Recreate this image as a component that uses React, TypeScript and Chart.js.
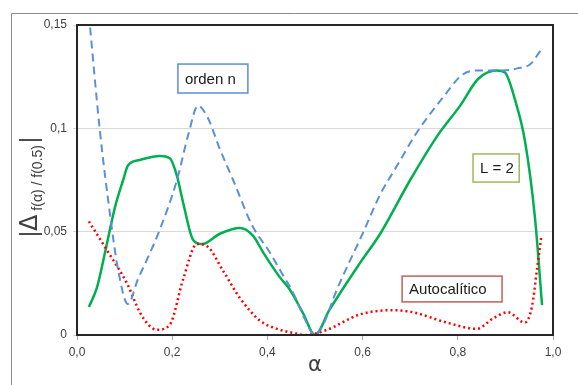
import React, { useEffect, useRef } from "react";
import { Chart, registerables } from "chart.js";

Chart.register(...registerables);

// ---- data ----
const xTickLabels = ["0,0", "0,2", "0,4", "0,6", "0,8", "1,0"];
const yTickLabels = ["0", "0,05", "0,1", "0,15"];

const ordenAlpha = [0.025, 0.048, 0.069, 0.086, 0.107, 0.128, 0.15, 0.174, 0.21, 0.235, 0.254, 0.275, 0.3, 0.328, 0.368, 0.405, 0.43, 0.455, 0.478, 0.5, 0.515, 0.546, 0.6, 0.637, 0.67, 0.714, 0.769, 0.81, 0.843, 0.87, 0.895, 0.925, 0.952, 0.975];
const ordenValues = [0.155, 0.099, 0.059, 0.032, 0.015, 0.027, 0.038, 0.051, 0.075, 0.098, 0.111, 0.105, 0.09, 0.075, 0.053, 0.04, 0.03, 0.02, 0.008, 0.0, 0.004, 0.022, 0.049, 0.068, 0.081, 0.098, 0.115, 0.126, 0.128, 0.128, 0.128, 0.129, 0.131, 0.138];

const l2Alpha = [0.025, 0.042, 0.059, 0.08, 0.097, 0.107, 0.132, 0.174, 0.195, 0.21, 0.223, 0.244, 0.263, 0.3, 0.342, 0.37, 0.391, 0.426, 0.447, 0.475, 0.5, 0.53, 0.595, 0.637, 0.7, 0.756, 0.805, 0.843, 0.882, 0.899, 0.92, 0.941, 0.962, 0.977];
const l2Values = [0.0135, 0.023, 0.04, 0.062, 0.075, 0.082, 0.0847, 0.0866, 0.0855, 0.077, 0.064, 0.046, 0.044, 0.049, 0.0518, 0.048, 0.04, 0.028, 0.022, 0.0105, 0.0, 0.012, 0.035, 0.049, 0.075, 0.096, 0.111, 0.124, 0.128, 0.127, 0.114, 0.094, 0.057, 0.0145];

const autoAlpha = [0.025, 0.063, 0.105, 0.132, 0.15, 0.168, 0.195, 0.223, 0.252, 0.273, 0.307, 0.342, 0.384, 0.42, 0.454, 0.48, 0.525, 0.595, 0.664, 0.706, 0.777, 0.84, 0.874, 0.905, 0.941, 0.956, 0.966, 0.975];
const autoValues = [0.055, 0.041, 0.025, 0.011, 0.005, 0.0025, 0.005, 0.027, 0.044, 0.043, 0.031, 0.018, 0.007, 0.003, 0.001, 0.0, 0.0025, 0.01, 0.012, 0.011, 0.006, 0.003, 0.008, 0.011, 0.006, 0.014, 0.031, 0.047];

const annotationLabels = ["orden n", "L = 2", "Autocalítico"];

const toPoints = (xs: number[], ys: number[]) => xs.map((x, i) => ({ x, y: ys[i] }));

const decorPlugin = {
  id: "decor",
  beforeDraw(chart: any) {
    const ctx = chart.ctx;
    ctx.save();
    ctx.strokeStyle = "#8c8c8c";
    ctx.lineWidth = 1;
    ctx.beginPath();
    ctx.moveTo(11.5, 385);
    ctx.lineTo(11.5, 13.5);
    ctx.lineTo(578, 13.5);
    ctx.stroke();
    ctx.restore();
  },
  afterDraw(chart: any) {
    const ctx = chart.ctx;
    const a = chart.chartArea;
    const xs = chart.scales.x;
    const ys = chart.scales.y;
    ctx.save();
    // plot border
    ctx.strokeStyle = "#262626";
    ctx.lineWidth = 2;
    ctx.strokeRect(a.left, a.top, a.right - a.left, a.bottom - a.top);

    // annotation boxes (data coordinates)
    const boxes = [
      { text: annotationLabels[0], x0: 0.212, x1: 0.359, y0: 0.1311, y1: 0.1171, color: "#5b8fd3" },
      { text: annotationLabels[1], x0: 0.832, x1: 0.929, y0: 0.0876, y1: 0.074, color: "#9bbb59" },
      { text: annotationLabels[2], x0: 0.683, x1: 0.893, y0: 0.0285, y1: 0.016, color: "#c0605c" },
    ];
    ctx.font = "15px 'Liberation Sans', Arial, sans-serif";
    ctx.textBaseline = "middle";
    ctx.textAlign = "left";
    for (const b of boxes) {
      const px0 = xs.getPixelForValue(b.x0);
      const px1 = xs.getPixelForValue(b.x1);
      const py0 = ys.getPixelForValue(b.y0);
      const py1 = ys.getPixelForValue(b.y1);
      ctx.fillStyle = "#ffffff";
      ctx.fillRect(px0, py0, px1 - px0, py1 - py0);
      ctx.strokeStyle = b.color;
      ctx.lineWidth = 1.5;
      ctx.strokeRect(px0, py0, px1 - px0, py1 - py0);
      ctx.fillStyle = "#1a1a1a";
      ctx.fillText(b.text, px0 + 7, (py0 + py1) / 2 + 1);
    }

    // x title
    ctx.fillStyle = "#404040";
    ctx.font = "21px 'DejaVu Sans', sans-serif";
    ctx.textAlign = "center";
    ctx.textBaseline = "middle";
    ctx.fillText("α", (a.left + a.right) / 2, 366);

    // y title
    ctx.translate(29, 187);
    ctx.rotate(-Math.PI / 2);
    const parts = [
      { t: "|", f: "23px 'Liberation Sans', sans-serif", dy: 0 },
      { t: "Δ", f: "24px 'DejaVu Sans', sans-serif", dy: 0 },
      { t: " f(α) / f(0.5)", f: "14px 'Liberation Sans', sans-serif", dy: 5 },
      { t: "|", f: "23px 'Liberation Sans', sans-serif", dy: 0 },
    ];
    let total = 0;
    const widths: number[] = [];
    for (const p of parts) {
      ctx.font = p.f;
      const w = ctx.measureText(p.t).width;
      widths.push(w);
      total += w;
    }
    total += 2;
    let cx = -total / 2;
    ctx.textAlign = "left";
    ctx.textBaseline = "alphabetic";
    parts.forEach((p, i) => {
      ctx.font = p.f;
      ctx.fillText(p.t, cx, 8 + p.dy);
      cx += widths[i] + (i === 2 ? 2 : 0);
    });
    ctx.restore();
  },
};

export default function App() {
  const ref = useRef<HTMLCanvasElement>(null);
  useEffect(() => {
    if (!ref.current) return;
    const chart = new Chart(ref.current, {
      type: "line",
      data: {
        datasets: [
          {
            label: "orden n",
            data: toPoints(ordenAlpha, ordenValues),
            borderColor: "#5b90d8",
            borderWidth: 2,
            borderDash: [8, 5],
            pointRadius: 0,
            cubicInterpolationMode: "monotone",
            fill: false,
          },
          {
            label: "Autocalítico",
            data: toPoints(autoAlpha, autoValues),
            borderColor: "#ff0000",
            borderWidth: 2.5,
            borderDash: [2, 3],
            pointRadius: 0,
            cubicInterpolationMode: "monotone",
            fill: false,
          },
          {
            label: "L = 2",
            data: toPoints(l2Alpha, l2Values),
            borderColor: "#00b050",
            borderWidth: 2.5,
            pointRadius: 0,
            cubicInterpolationMode: "monotone",
            fill: false,
          },
        ],
      },
      options: {
        animation: false,
        responsive: false,
        devicePixelRatio: 1,
        layout: { padding: { left: 0, top: 25, right: 25, bottom: 0 } },
        plugins: { legend: { display: false }, tooltip: { enabled: false } },
        scales: {
          x: {
            type: "linear",
            min: 0,
            max: 1,
            afterFit: (s: any) => { s.height = 50; },
            ticks: {
              stepSize: 0.2,
              padding: 5,
              color: "#404040",
              font: { family: "'Liberation Sans', Arial, sans-serif", size: 12 },
              callback: (v: any) => xTickLabels[Math.round(Number(v) / 0.2)] ?? "",
            },
            grid: { drawOnChartArea: false, drawTicks: true, tickLength: 5, color: "#a6a6a6" },
            border: { display: false },
          },
          y: {
            min: 0,
            max: 0.15,
            afterFit: (s: any) => { s.width = 77; },
            ticks: {
              stepSize: 0.05,
              padding: 6,
              color: "#404040",
              font: { family: "'Liberation Sans', Arial, sans-serif", size: 12 },
              callback: (v: any) => yTickLabels[Math.round(Number(v) / 0.05)] ?? "",
            },
            grid: { color: "#d9d9d9", drawTicks: true, tickLength: 4 },
            border: { display: false },
          },
        },
      },
      plugins: [decorPlugin],
    } as any);
    return () => chart.destroy();
  }, []);
  return (
    <div style={{ position: "fixed", left: 0, top: 0, width: 578, height: 385, background: "#fff" }}>
      <canvas ref={ref} width={578} height={385} style={{ width: 578, height: 385 }} />
    </div>
  );
}
